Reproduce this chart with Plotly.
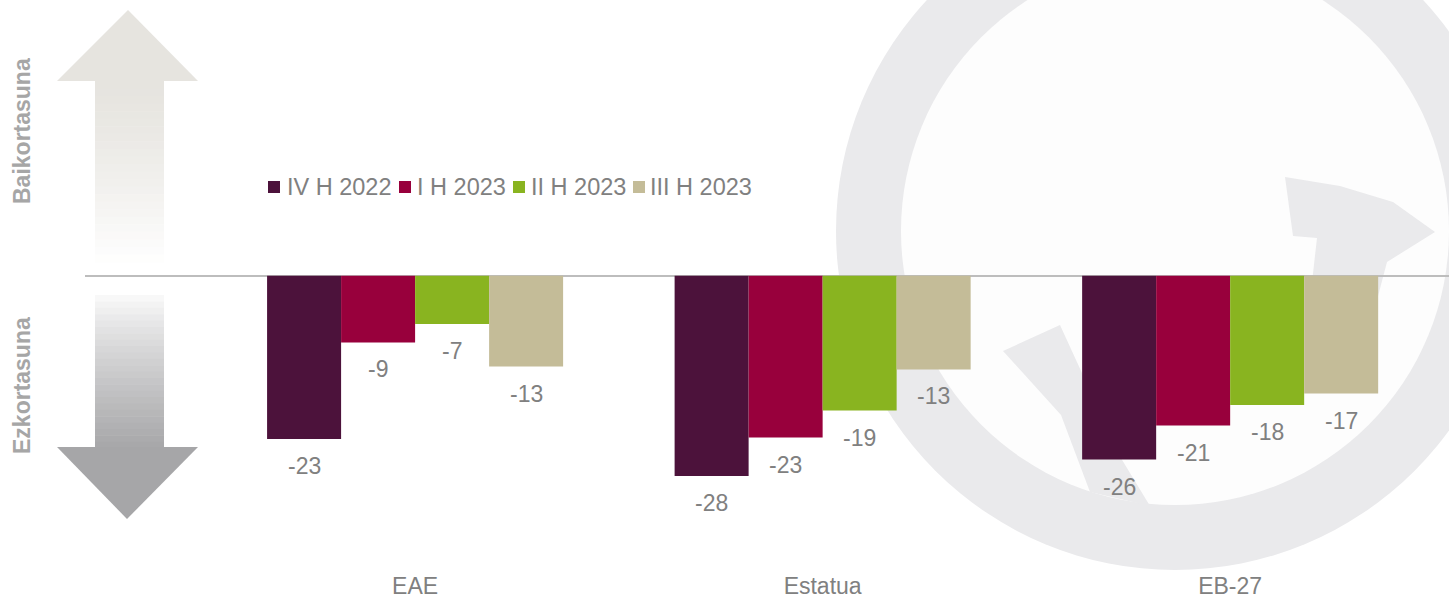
import plotly.graph_objects as go

# ---------------- data ----------------
categories = ["EAE", "Estatua", "EB-27"]
series_names = ["IV H 2022", "I H 2023", "II H 2023", "III H 2023"]
iv_h_2022 = [-23.0, -28.2, -25.9]
i_h_2023 = [-9.4, -22.8, -21.1]
ii_h_2023 = [-6.8, -19.0, -18.2]
iii_h_2023 = [-12.8, -13.2, -16.6]
series_values = [iv_h_2022, i_h_2023, ii_h_2023, iii_h_2023]
side_labels = ["Baikortasuna", "Ezkortasuna"]

# ---------------- style ----------------
colors = ["#4c123b", "#98003c", "#89b420", "#c4bc98"]
W, H = 1449, 600
FONT = "Liberation Sans, Arial, sans-serif"
TXT = "#808080"
BARGAP = 0.2736
XRANGE = [-0.81, 2.537]
YRANGE = [-41.45, 38.83]
# legend layout (pixel positions of squares and texts)
LEG_SQ_X = [268, 399, 513, 633]
LEG_TX_X = [286, 416, 530, 649]
LEG_Y = 187


def px(x):
    return x / W


def py(y):
    return 1 - y / H


def path(points):
    return "M " + " L ".join(f"{px(x):.5f},{py(y):.5f}" for x, y in points) + " Z"


fig = go.Figure()
for name, vals, col in zip(series_names, series_values, colors):
    fig.add_trace(go.Bar(
        x=categories, y=vals, name=name,
        marker=dict(color=col, line=dict(width=0)),
        showlegend=False, hoverinfo="x+y+name",
    ))

shapes = []
# ---- background circular arrow (decorative) ----
ring = "#eaeaec"
cx, cy, R, r = 1175, 231, 339, 274
shapes.append(dict(type="circle", xref="paper", yref="paper", layer="below",
                   x0=px(cx - R), x1=px(cx + R), y0=py(cy + R), y1=py(cy - R),
                   fillcolor=ring, line=dict(width=0)))
shapes.append(dict(type="circle", xref="paper", yref="paper", layer="below",
                   x0=px(cx - r), x1=px(cx + r), y0=py(cy + r), y1=py(cy - r),
                   fillcolor="#fdfdfd", line=dict(width=0)))
# upper-right arrowhead
shapes.append(dict(type="path", xref="paper", yref="paper", layer="below",
                   path=path([(1285, 177), (1340, 186), (1393, 202), (1435, 232),
                              (1387, 262), (1377, 300), (1310, 300), (1317, 238),
                              (1293, 236)]),
                   fillcolor=ring, line=dict(width=0)))
# lower-left arrowhead
shapes.append(dict(type="path", xref="paper", yref="paper", layer="below",
                   path=path([(1003, 351), (1060, 325), (1082, 373), (1110, 440),
                              (1150, 506), (1090, 492), (1061, 415)]),
                   fillcolor=ring, line=dict(width=0)))


# ---- left vertical arrows with gradient ----
def lerp(c0, c1, t):
    return "rgb(" + ",".join(str(round(a + (b - a) * t)) for a, b in zip(c0, c1)) + ")"


up_col = (230, 228, 223)
dn_col = (168, 168, 170)
white = (255, 255, 255)
shapes.append(dict(type="path", xref="paper", yref="paper", layer="below",
                   path=path([(57, 81), (128, 10), (198, 81)]),
                   fillcolor=lerp(up_col, up_col, 0), line=dict(width=0)))
n = 24
y_top, y_bot = 81, 262
for k in range(n):
    y0 = y_top + (y_bot - y_top) * k / n
    y1 = y_top + (y_bot - y_top) * (k + 1) / n
    shapes.append(dict(type="rect", xref="paper", yref="paper", layer="below",
                       x0=px(95), x1=px(164), y0=py(y1 + 0.5), y1=py(y0),
                       fillcolor=lerp(up_col, white, (k / n) ** 1.3), line=dict(width=0)))
y_top, y_bot = 295, 448
for k in range(n):
    y0 = y_top + (y_bot - y_top) * k / n
    y1 = y_top + (y_bot - y_top) * (k + 1) / n
    shapes.append(dict(type="rect", xref="paper", yref="paper", layer="below",
                       x0=px(95), x1=px(164), y0=py(y1 + 0.5), y1=py(y0),
                       fillcolor=lerp(white, dn_col, ((k + 1) / n) ** 0.8), line=dict(width=0)))
shapes.append(dict(type="path", xref="paper", yref="paper", layer="below",
                   path=path([(57, 447), (198, 447), (127, 519)]),
                   fillcolor="rgb(166,166,168)", line=dict(width=0)))

annotations = []
# ---- data labels below each bar ----
bw = (1 - BARGAP) / len(series_names)
for j, vals in enumerate(series_values):
    for i, v in enumerate(vals):
        annotations.append(dict(
            x=i + (j - (len(series_names) - 1) / 2) * bw, y=v, xref="x", yref="y",
            text=f"{round(v)}", showarrow=False, yshift=-27, yanchor="middle",
            xanchor="center",
            font=dict(family=FONT, size=23, color=TXT)))

# ---- legend: coloured squares + texts ----
for sx, tx, nm, c in zip(LEG_SQ_X, LEG_TX_X, series_names, colors):
    shapes.append(dict(type="rect", xref="paper", yref="paper", layer="above",
                       x0=px(sx), x1=px(sx + 12), y0=py(LEG_Y + 6), y1=py(LEG_Y - 6),
                       fillcolor=c, line=dict(width=0)))
    annotations.append(dict(x=px(tx - 1), y=py(LEG_Y), xref="paper", yref="paper",
                            xanchor="left", yanchor="middle", showarrow=False,
                            text=nm, font=dict(family=FONT, size=23.5, color=TXT)))

# ---- side labels ----
for lab, yy in zip(side_labels, [131, 386]):
    annotations.append(dict(x=px(22), y=py(yy), xref="paper", yref="paper",
                            xanchor="center", yanchor="middle",
                            text=f"<b>{lab}</b>", textangle=-90, showarrow=False,
                            font=dict(family=FONT, size=23, color="#a6a6a6")))

fig.update_layout(
    width=W, height=H,
    margin=dict(l=0, r=0, t=0, b=0, pad=0),
    paper_bgcolor="white", plot_bgcolor="rgba(0,0,0,0)",
    barmode="group", bargap=BARGAP, bargroupgap=0,
    showlegend=False,
    font=dict(family=FONT, size=23, color=TXT),
    shapes=shapes, annotations=annotations,
    xaxis=dict(domain=[px(85), 1], range=XRANGE, showgrid=False, zeroline=False,
               showline=False, ticks="", automargin=False,
               tickfont=dict(family=FONT, size=23, color=TXT)),
    yaxis=dict(domain=[30 / H, 1], range=YRANGE, showgrid=False, zeroline=True,
               zerolinecolor="#bdbdbd", zerolinewidth=1.5, showticklabels=False,
               showline=False, ticks="", automargin=False),
)

fig.write_html(
    "out.html",
    config={"displayModeBar": False},
    post_script="document.body.style.margin='0';document.body.style.overflow='hidden';",
)
